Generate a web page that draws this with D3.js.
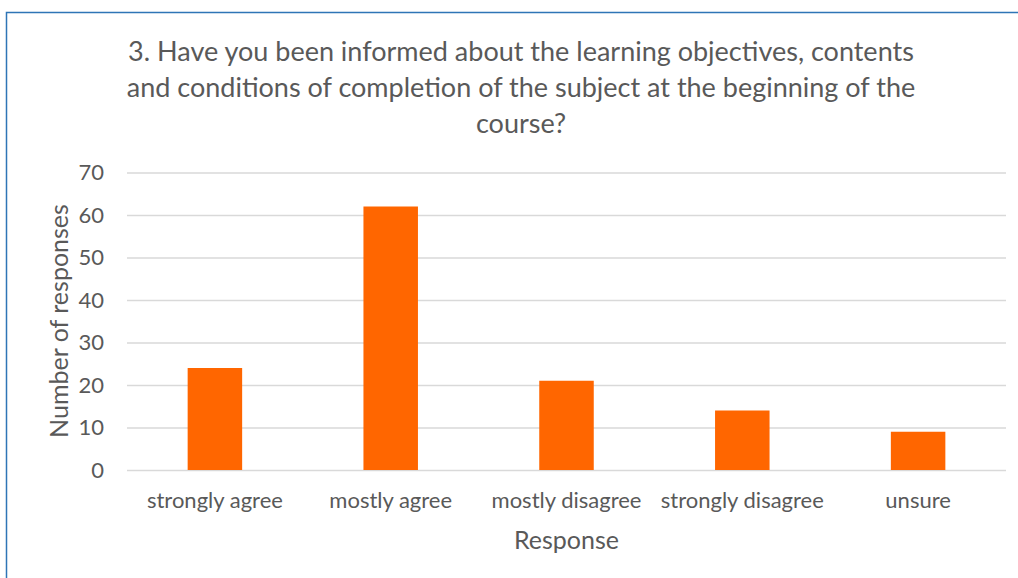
<!DOCTYPE html>
<html>
<head>
<meta charset="utf-8">
<script src="https://cdn.jsdelivr.net/npm/d3@7"></script>
<style>
  html, body { margin: 0; padding: 0; background: #fff; }
  svg { display: block; }
  text { font-family: Lato, "Liberation Sans", sans-serif; fill: #595959; }
</style>
</head>
<body>
<div id="chart"></div>
<script>
// chart data
const categories = ["strongly agree", "mostly agree", "mostly disagree", "strongly disagree", "unsure"];
const responses = [24, 62, 21, 14, 9];
const yTicks = [0, 10, 20, 30, 40, 50, 60, 70];
const titleLines = [
    "3. Have you been informed about the learning objectives, contents",
    "and conditions of completion of the subject at the beginning of the",
    "course?"
];

const width = 1018, height = 578;
const margin = { top: 172.5, right: 12, bottom: 108, left: 127 };
const innerW = width - margin.left - margin.right,
    innerH = height - margin.top - margin.bottom;

const svg = d3.select("#chart")
    .append("svg")
    .attr("width", width)
    .attr("height", height);

// outer frame (runs off the right and bottom edge)
svg.append("rect")
    .attr("x", 6.5)
    .attr("y", 12.5)
    .attr("width", width + 20)
    .attr("height", height + 20)
    .attr("fill", "none")
    .attr("stroke", "#2e75b6")
    .attr("stroke-width", 1.5);

// title
svg.append("text")
    .attr("text-anchor", "middle")
    .attr("font-size", 27)
    .selectAll("tspan")
    .data(titleLines)
    .enter()
    .append("tspan")
    .attr("x", 521)
    .attr("y", (d, i) => 61 + i * 36)
    .text(d => d);

const g = svg.append("g")
    .attr("transform", `translate(${ margin.left }, ${ margin.top })`);

// scales
const x = d3.scaleBand()
    .domain(categories)
    .range([0, innerW])
    .paddingInner(0.69)
    .paddingOuter(0.345);
const y = d3.scaleLinear()
    .domain([0, 70])
    .range([innerH, 0]);

// gridlines + y labels
const yAxis = d3.axisLeft(y)
    .tickValues(yTicks)
    .tickSize(-innerW)
    .tickPadding(23)
    .tickFormat(d3.format("d"));
g.append("g")
    .call(yAxis)
    .call(s => s.select(".domain").remove())
    .call(s => s.selectAll("line").attr("stroke", "#d9d9d9").attr("stroke-width", 1.5))
    .call(s => s.selectAll("text").attr("font-size", 22).attr("fill", "#595959"));

// bars
g.selectAll("rect.bar")
    .data(responses)
    .enter()
    .append("rect")
    .attr("class", "bar")
    .attr("x", (d, i) => x(categories[i]))
    .attr("width", x.bandwidth())
    .attr("y", d => y(d))
    .attr("height", d => innerH - y(d))
    .attr("fill", "#ff6600");

// x labels
const xAxis = d3.axisBottom(x)
    .tickSize(0)
    .tickPadding(22);
g.append("g")
    .attr("transform", `translate(0, ${ innerH })`)
    .call(xAxis)
    .call(s => s.select(".domain").remove())
    .call(s => s.selectAll("text").attr("font-size", 22).attr("fill", "#595959"));

// axis titles
svg.append("text")
    .attr("x", margin.left + innerW / 2)
    .attr("y", 549)
    .attr("text-anchor", "middle")
    .attr("font-size", 25)
    .text("Response");

svg.append("text")
    .attr("transform", `translate(68, 321) rotate(-90)`)
    .attr("text-anchor", "middle")
    .attr("font-size", 25)
    .text("Number of responses");
</script>
</body>
</html>
